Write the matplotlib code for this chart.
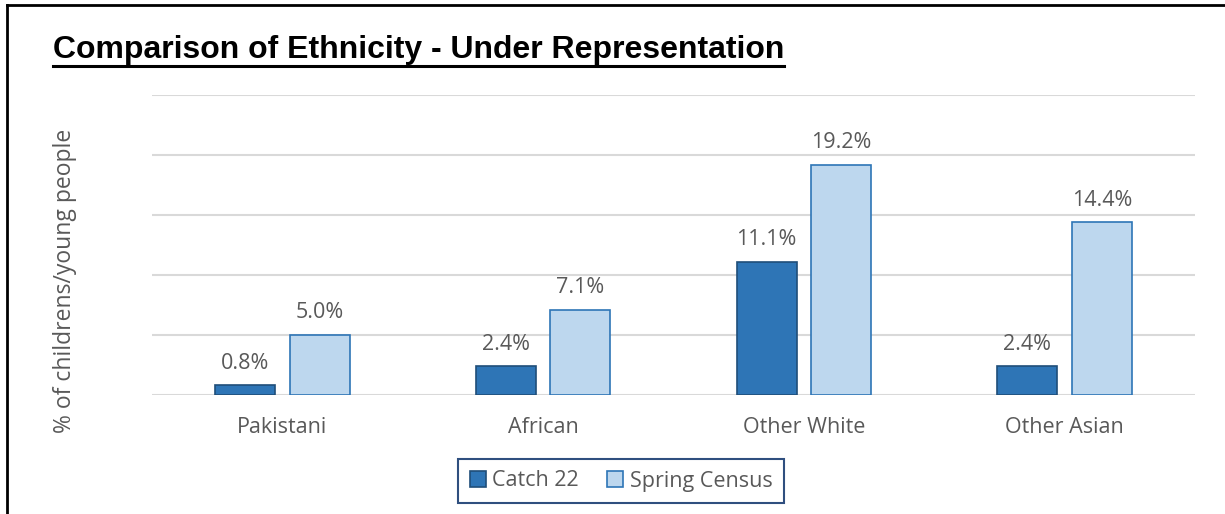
import matplotlib
matplotlib.use("Agg")
from matplotlib import pyplot as plt
from matplotlib.lines import Line2D
import numpy as np

categories = ["Pakistani", "African", "Other White", "Other Asian"]
catch22 = [0.8, 2.4, 11.1, 2.4]
spring_census = [5.0, 7.1, 19.2, 14.4]
series_names = ["Catch 22", "Spring Census"]

W, H = 1225, 514
fig = plt.figure(figsize=(W / 100, H / 100), dpi=100)
font = "Open Sans"
grey = "#595959"
fs = 15.5

# plot area in pixels
x0, x1, ytop, ybot = 152, 1195, 95, 395
ax = fig.add_axes([x0 / W, 1 - ybot / H, (x1 - x0) / W, (ybot - ytop) / H])

x = np.arange(len(categories))
off, bw = 0.143, 0.23
b1 = ax.bar(x - off, catch22, bw, color="#2E75B6", edgecolor="#1F4E79", linewidth=1.2,
            label=series_names[0], zorder=3)
b2 = ax.bar(x + off, spring_census, bw, color="#BDD7EE", edgecolor="#2E75B6", linewidth=1.2,
            label=series_names[1], zorder=3)

for bars in (b1, b2):
    for rect in bars:
        h = rect.get_height()
        ax.annotate(f"{h:.1f}%", (rect.get_x() + rect.get_width() / 2, h),
                    xytext=(0, 12), textcoords="offset points", ha="center", va="baseline",
                    fontsize=fs, color=grey, family=font)

ax.set_xlim(-0.5, len(categories) - 0.5)
ax.set_ylim(0, 25)
ax.set_yticks(np.arange(0, 26, 5))
ax.yaxis.grid(True, color="#D9D9D9", linewidth=1.5, zorder=0)
ax.tick_params(axis="y", left=False, labelleft=False)
ax.tick_params(axis="x", bottom=False, pad=12, labelsize=fs, labelcolor=grey)
ax.set_xticks(x)
ax.set_xticklabels(categories, family=font)
for s in ax.spines.values():
    s.set_visible(False)

fig.text(65 / W, 1 - 281 / H, "% of childrens/young people", rotation=90, ha="center", va="center",
         fontsize=16.5, color=grey, family=font)

# title with underline
title = fig.text(53 / W, 1 - 58 / H, "Comparison of Ethnicity - Under Representation",
                 ha="left", va="baseline", fontsize=23, fontweight="bold",
                 family="Liberation Sans", color="black")
fig.canvas.draw()
bb = title.get_window_extent(fig.canvas.get_renderer())
uy = 1 - 66 / H
fig.add_artist(Line2D([bb.x0 / W, bb.x1 / W], [uy, uy], color="black", linewidth=2.2))

leg = fig.legend(handles=[b1, b2], loc="center", bbox_to_anchor=(621 / W, 1 - 481 / H), ncol=2,
                 fancybox=False, edgecolor="#2F4F7F", framealpha=1, borderpad=0.55,
                 handlelength=0.75, handleheight=0.75, handletextpad=0.3, columnspacing=1.3,
                 prop={"family": font, "size": fs})
leg.get_frame().set_linewidth(1.5)
for t in leg.get_texts():
    t.set_color(grey)

# chart border (left and top)
fig.add_artist(Line2D([7 / W, 7 / W], [0, 1 - 5 / H], color="black", linewidth=2))
fig.add_artist(Line2D([7 / W, 1], [1 - 5 / H, 1 - 5 / H], color="black", linewidth=2))

fig.savefig("out.png", dpi=100)
